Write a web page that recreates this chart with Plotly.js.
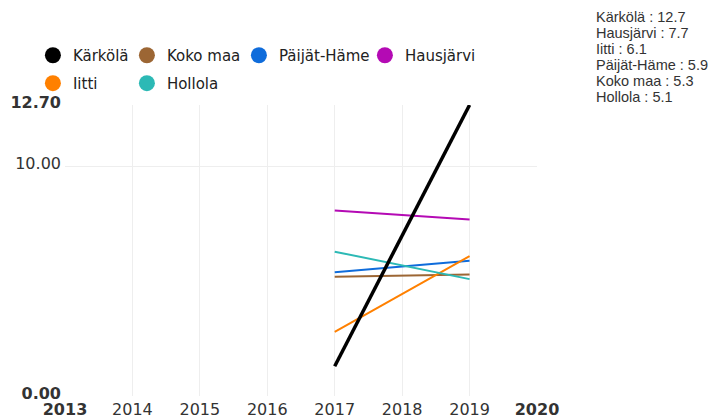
<!DOCTYPE html>
<html><head><meta charset="utf-8">
<script src="https://cdn.plot.ly/plotly-3.0.1.min.js"></script>
<style>html,body{margin:0;padding:0;background:#fff}</style>
</head><body>
<div id="chart" style="width:709px;height:418px"></div>
<script>
// ---- data ----
const years = [2017, 2019];
const names = ['Kärkölä', 'Koko maa', 'Päijät-Häme', 'Hausjärvi', 'Iitti', 'Hollola'];
const karkola = [1.3, 12.7];
const kokoMaa = [5.2, 5.3];
const paijatHame = [5.4, 5.9];
const hausjarvi = [8.1, 7.7];
const iitti = [2.8, 6.1];
const hollola = [6.3, 5.1];
const xTickVals = [2013, 2014, 2015, 2016, 2017, 2018, 2019, 2020];
const xTickText = ['<b>2013</b>', '2014', '2015', '2016', '2017', '2018', '2019', '<b>2020</b>'];
const yTickVals = [0, 10, 12.7];
const yTickText = ['<b>0.00</b>', '10.00', '<b>12.70</b>'];

// ---- styles ----
const series = [karkola, kokoMaa, paijatHame, hausjarvi, iitti, hollola];
const colors = ['#000000', '#9c6634', '#0f6cdb', '#b40ab4', '#ff8000', '#2cb9b5'];
const widths = [3.5, 2, 2, 2, 2, 2];
const legendOf = ['legend', 'legend', 'legend', 'legend', 'legend2', 'legend2'];
const legendW = [49, 67, 81, 80, 49, 70];

const traces = [];
// legend-only marker entries
names.forEach((n, i) => {
  traces.push({
    x: [null], y: [null], type: 'scatter', mode: 'markers', name: n,
    marker: {color: colors[i], size: 17}, legend: legendOf[i], legendwidth: legendW[i],
    hoverinfo: 'skip'
  });
});
// lines: draw Kärkölä last (on top)
[1, 2, 3, 4, 5, 0].forEach(i => {
  traces.push({
    x: years, y: series[i], type: 'scatter', mode: 'lines', name: names[i],
    line: {color: colors[i], width: widths[i]}, showlegend: false
  });
});

// value list (latest year), sorted descending
const last = names.map((n, i) => ({n: n, v: series[i][series[i].length - 1]}))
  .sort((a, b) => b.v - a.v);
const plotH = 418 - 105 - 22;
const annotations = last.map((d, k) => ({
  xref: 'paper', yref: 'paper', x: 1.121, y: 1 + (105 - 17 - 16 * k) / plotH,
  xanchor: 'left', yanchor: 'middle', align: 'left', showarrow: false,
  text: d.n + ' : ' + d.v,
  font: {family: 'Liberation Sans', size: 14.5, color: '#333'}
}));

const layout = {
  width: 709, height: 418,
  margin: {l: 65, r: 172, t: 105, b: 22},
  paper_bgcolor: '#fff', plot_bgcolor: '#fff',
  font: {family: 'DejaVu Sans', size: 16, color: '#444'},
  xaxis: {
    range: [2013, 2020], tickvals: xTickVals, ticktext: xTickText,
    showgrid: true, gridcolor: '#eeeeee', gridwidth: 1, zeroline: false, showline: false,
    tickfont: {family: 'DejaVu Sans', size: 16, color: '#333'}, ticks: '',
    ticklabelstandoff: 2, fixedrange: true
  },
  yaxis: {
    range: [0, 12.7], tickvals: yTickVals, ticktext: yTickText,
    showgrid: true, gridcolor: '#eeeeee', gridwidth: 1, zeroline: false, showline: false,
    tickfont: {family: 'DejaVu Sans', size: 16, color: '#333'}, ticks: '',
    ticklabelshift: -3, ticklabelstandoff: 3, fixedrange: true
  },
  legend: {
    orientation: 'h', x: -0.068, xanchor: 'left', y: 1.170, yanchor: 'middle',
    font: {family: 'DejaVu Sans', size: 15, color: '#222'}, bgcolor: 'rgba(0,0,0,0)'
  },
  legend2: {
    orientation: 'h', x: -0.068, xanchor: 'left', y: 1.074, yanchor: 'middle',
    font: {family: 'DejaVu Sans', size: 15, color: '#222'}, bgcolor: 'rgba(0,0,0,0)'
  },
  annotations: annotations,
  showlegend: true
};

Plotly.newPlot('chart', traces, layout, {displayModeBar: false, staticPlot: true});
</script>
</body></html>
